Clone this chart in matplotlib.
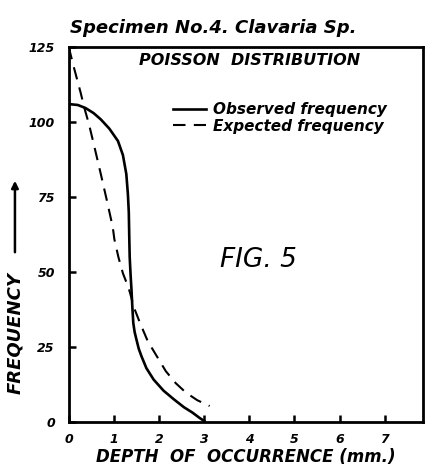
import matplotlib.pyplot as plt

# curvas
obs_x = [0.0, 0.2, 0.37, 0.55, 0.71, 0.9, 1.09, 1.2, 1.275, 1.31, 1.33, 1.34, 1.35,
         1.37, 1.39, 1.41, 1.43, 1.46, 1.50, 1.55, 1.61, 1.72, 1.88, 2.1, 2.33, 2.55,
         2.74, 2.9, 3.0]
obs_y = [106, 105.7, 104.7, 103, 100.9, 97.8, 93.7, 89, 82.7, 76, 70, 62, 55,
         49, 44, 38, 33, 30, 27.5, 24.5, 22, 18, 14.2, 10.5, 7.6, 5,
         3.2, 1.4, 0.4]

esp_x = [0.0, 0.1, 0.26, 0.35, 0.45, 0.58, 0.71, 0.85, 0.975, 1.01, 1.1, 1.2, 1.28,
         1.35, 1.45, 1.58, 1.75, 1.95, 2.15, 2.37, 2.6, 2.85, 3.12]
esp_y = [125, 119, 110, 104.5, 99.2, 91, 82.7, 73.5, 65, 61, 55, 49.6, 46.5,
         43.5, 38, 33, 27, 22, 17, 13, 9.8, 7.3, 5.4]

x_ticks = [0, 1, 2, 3, 4, 5, 6, 7]
y_ticks = [0, 25, 50, 75, 100, 125]

fuente = dict(family="DejaVu Sans", weight="bold", style="italic")

fig = plt.figure(figsize=(4.27, 4.66), dpi=100)
ax = fig.add_axes([0.161, 0.094, 0.83, 0.805])

ax.plot(obs_x, obs_y, color="black", lw=1.9, label="Observed frequency")
ax.plot(esp_x, esp_y, color="black", lw=1.5, dashes=(6, 4), label="Expected frequency")

ax.set_xlim(0, 7.85)
ax.set_ylim(0, 125)
ax.set_xticks(x_ticks)
ax.set_yticks(y_ticks)
ax.set_xticklabels([str(t) for t in x_ticks], fontsize=9, **fuente)
ax.set_yticklabels([str(t) for t in y_ticks], fontsize=9, **fuente)
ax.tick_params(direction="in", length=5, width=1.8, pad=8)
ax.tick_params(axis="y", pad=10)
for s in ax.spines.values():
    s.set_linewidth(2.0)

ax.text(0.51, 0.965, "POISSON  DISTRIBUTION", transform=ax.transAxes, ha="center",
        va="center", fontsize=11.5, **fuente)
fig.text(0.165, 0.94, "Specimen No.4. Clavaria Sp.", ha="left", va="center",
         fontsize=13, **fuente)
ax.text(3.35, 54, "FIG. 5", ha="left", va="center", fontsize=19,
        family="DejaVu Sans", style="italic")

ax.legend(frameon=False, loc="upper left", bbox_to_anchor=(0.255, 0.89),
          handlelength=2.2, handletextpad=0.4, labelspacing=0.1,
          prop=dict(size=11, weight="bold", style="italic", family="DejaVu Sans"))

ax.set_xlabel("DEPTH  OF  OCCURRENCE (mm.)", fontsize=12, labelpad=1, **fuente)

# etiqueta vertical con flecha
fig.text(0.035, 1 - 333 / 466, "FREQUENCY", rotation=90, ha="center", va="center",
         fontsize=13, **fuente)
fig.add_artist(plt.matplotlib.patches.FancyArrowPatch(
    (0.035, 1 - 255 / 466), (0.035, 1 - 178 / 466), transform=fig.transFigure,
    arrowstyle="-|>", mutation_scale=10, lw=1.8, color="black"))

fig.savefig("out.png", dpi=100)
